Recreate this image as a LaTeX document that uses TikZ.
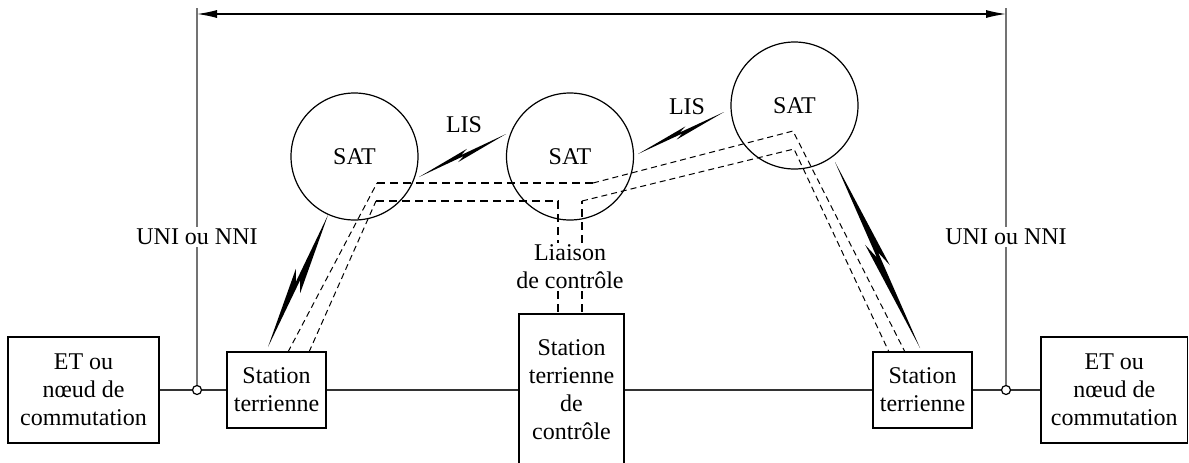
\documentclass[tikz,border=0pt]{standalone}
\usepackage{fontspec}
\setmainfont{Liberation Serif}
\usetikzlibrary{calc,arrows.meta}
\newcommand\bolt[4]{\fill ($(#1)$) -- ($(#1)!0.57!(#2)!#3!90:(#2)$) -- ($(#1)!0.49!(#2)!#4!90:(#2)$) -- ($(#2)$) -- ($(#1)!0.43!(#2)!#3!-90:(#2)$) -- ($(#1)!0.51!(#2)!#4!-90:(#2)$) -- cycle;}
\begin{document}
\begin{tikzpicture}[x=0.5pt,y=-0.5pt,
  txt/.style={font=\fontsize{12}{14}\selectfont, align=center, inner sep=1pt},
  box/.style={txt, draw, line width=0.6pt, inner sep=0pt},
  sat/.style={circle, draw, line width=0.6pt, minimum size=63.5pt, inner sep=0pt, font=\fontsize{12}{14}\selectfont},
  tdash/.style={line width=1.2pt, dash pattern=on 4pt off 2.5pt},
  ndash/.style={line width=0.5pt, dash pattern=on 3pt off 2pt},
  wire/.style={line width=0.55pt, draw=black!80},
  uni/.style={line width=0.6pt, draw=black!55},
  port/.style={circle, draw, fill=white, line width=0.6pt, minimum size=4.5pt, inner sep=0pt}]
\useasboundingbox (0,0) rectangle (1189,462);
\clip (0,0) rectangle (1189,462);
% boxes
\node[box, minimum width=75.5pt, minimum height=53pt] (etL) at (83.5,390) {ET ou\\nœud de\\commutation};
\node[box, minimum width=49.5pt, minimum height=38pt] (stL) at (276.5,390) {Station\\terrienne};
\node[box, minimum width=52.5pt, minimum height=76pt] (ctl) at (571.5,390) {Station\\terrienne\\de\\contrôle};
\node[box, minimum width=49.5pt, minimum height=38pt] (stR) at (922.5,390) {Station\\terrienne};
\node[box, minimum width=73.25pt, minimum height=53pt] (etR) at (1114.25,390) {ET ou\\nœud de\\commutation};
% ports
\node[port] (pL) at (197,390) {};
\node[port] (pR) at (1006,390) {};
% main line
\draw[wire] (etL.east) -- (pL) -- (stL.west);
\draw[wire] (stL.east) -- (ctl.west);
\draw[wire] (ctl.east) -- (stR.west);
\draw[wire] (stR.east) -- (pR) -- (etR.west);
% UNI lines
\node[txt, fill=white] (uL) at (197,237) {UNI ou NNI};
\node[txt, fill=white] (uR) at (1006,237) {UNI ou NNI};
\coordinate (tL) at (197,8);
\coordinate (tR) at (1006,8);
\draw[uni] (tL) -- (uL.north);
\draw[uni] (uL.south) -- (pL.north);
\draw[uni] (tR) -- (uR.north);
\draw[uni] (uR.south) -- (pR.north);
\coordinate (aL) at (197,14);
\coordinate (aR) at (1006,14);
\draw[line width=0.6pt, {Latex[length=10pt,width=4pt]}-{Latex[length=10pt,width=4pt]}] (aL) -- (aR);
% satellites
\node[sat] (s1) at (354.5,156.5) {SAT};
\node[sat] (s2) at (570,156.5) {SAT};
\node[sat] (s3) at (794.5,105.5) {SAT};
\node[txt] (lis1) at (464,125) {LIS};
\node[txt] (lis2) at (687,107) {LIS};
% bolts
\coordinate (b1a) at (419,177); \coordinate (b1b) at (506,134);
\coordinate (b2a) at (638,154); \coordinate (b2b) at (724,112);
\coordinate (b3a) at (328,215); \coordinate (b3b) at (268,347);
\coordinate (b4a) at (835,162); \coordinate (b4b) at (920,348);
\bolt{b1a}{b1b}{2pt}{0.5pt}
\bolt{b2a}{b2b}{2pt}{0.5pt}
\bolt{b3a}{b3b}{3.5pt}{0.8pt}
\bolt{b4a}{b4b}{3.5pt}{0.8pt}
% control link label
\node[txt] (lia) at (570,267) {Liaison\\de contrôle};
% dashed paths
\coordinate (o1) at (288,352); \coordinate (o2) at (377,183); \coordinate (o3) at (593,183);
\coordinate (o4) at (793,131); \coordinate (o5) at (905,352);
\coordinate (i1) at (309,352); \coordinate (i2) at (376,201); \coordinate (i3) at (558,201);
\coordinate (i4) at (582,201); \coordinate (i5) at (794,149); \coordinate (i6) at (889,352);
\draw[ndash] (o1) -- (o2);
\draw[tdash] (o2) -- (o3);
\draw[ndash] (o3) -- (o4) -- (o5);
\draw[ndash] (i1) -- (i2);
\draw[tdash] (i2) -- (i3) -- (i3 |- lia.north);
\draw[tdash] (i4 |- lia.north) -- (i4);
\draw[ndash] (i4) -- (i5) -- (i6);
\draw[tdash] (i3 |- lia.south) -- (i3 |- ctl.north);
\draw[tdash] (i4 |- lia.south) -- (i4 |- ctl.north);
\end{tikzpicture}
\end{document}
